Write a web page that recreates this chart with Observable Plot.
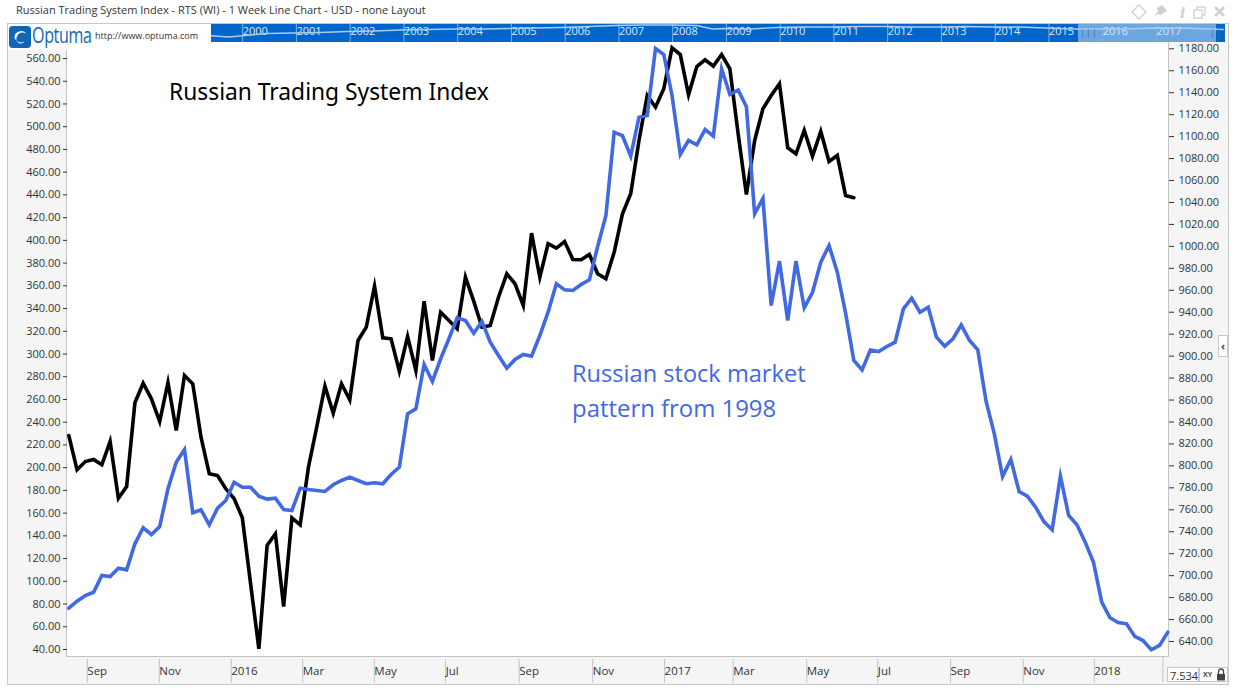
<!DOCTYPE html>
<html><head><meta charset="utf-8">
<script src="https://cdn.jsdelivr.net/npm/d3@7"></script>
<script src="https://cdn.jsdelivr.net/npm/@observablehq/plot@0.6"></script>
<style>
html,body{margin:0;padding:0;background:#fff;width:1236px;height:691px;overflow:hidden;font-family:"Open Sans",sans-serif;color:#333}
.a{position:absolute}
</style></head><body>
<div class="a" style="left:16px;top:2px;font-size:11px;line-height:16px;color:#333">Russian Trading System Index - RTS (WI) - 1 Week Line Chart - USD - none Layout</div>
<svg class="a" style="left:1130px;top:3px" width="100" height="18" viewBox="0 0 100 18">
<path d="M9 2 L16 9 L9 16 L2 9 Z" fill="none" stroke="#d0d0d0" stroke-width="1.3"/>
<path d="M23 14 L28 8 L27 5 L32 2 L37 8 L33 10 L31 12 L27 11 Z" fill="#cfcfcf"/>
<text x="50" y="15" font-family="DejaVu Serif" font-style="italic" font-weight="bold" font-size="14" fill="#cfcfcf">i</text>
<rect x="67" y="4" width="8" height="8" fill="none" stroke="#cfcfcf" stroke-width="1.3"/><rect x="64" y="7" width="8" height="8" fill="#fff" stroke="#cfcfcf" stroke-width="1.3"/>
<path d="M85 4 L94 13 M94 4 L85 13" stroke="#cfcfcf" stroke-width="2.6"/>
</svg>
<!-- frame and panels -->
<div class="a" style="left:7px;top:23px;width:1220px;height:660px;background:#f5f5f5;border:1px solid #c8c8c8;box-sizing:content-box"></div>
<div class="a" style="left:67px;top:42px;width:1101px;height:614px;background:#fff;border-left:1px solid #c4c4c4;border-right:1px solid #c4c4c4;border-bottom:1px solid #c4c4c4;box-sizing:content-box;margin-left:-1px"></div>
<div id="strip" class="a" style="left:8px;top:24px;width:1217px;height:18px;background:#0066cc"></div>
<div class="a" style="left:1225px;top:24px;width:3px;height:18px;background:#f5f5f5"></div>
<div class="a" style="left:1078px;top:24px;width:138px;height:18px;background:rgba(255,255,255,.42)"></div>
<div id="main" class="a" style="left:7px;top:32px"></div>
<div id="over" class="a" style="left:8px;top:24px"></div>
<div class="a" style="left:1080px;top:26px;font-size:9px;line-height:14px;letter-spacing:1px;color:#4a6f96">|||</div>
<div class="a" style="left:1210px;top:26px;font-size:9px;line-height:14px;letter-spacing:1px;color:#4a6f96">|||</div>
<!-- logo -->
<div class="a" style="left:8px;top:24px;width:203px;height:26px;background:#fff"></div>
<svg class="a" style="left:9px;top:26px" width="22" height="22" viewBox="0 0 24 24">
<path d="M4 0 H20 A 4 4 0 0 1 24 4 V20 A4 4 0 0 1 20 24 H4 A4 4 0 0 1 0 20 V4 A4 4 0 0 1 4 0 Z" fill="#1265b5"/>
<path d="M6 13 A7 7 0 0 1 19 9 A6 6 0 0 0 9 11 A5 5 0 0 0 17 17 A8 8 0 0 1 6 13 Z" fill="#fff"/>
</svg>
<div class="a" style="left:32px;top:20px;font-size:22px;line-height:28px;letter-spacing:-.5px;color:#1265b5;transform:scaleX(.73);transform-origin:left center">Optuma</div>
<div class="a" style="left:95px;top:29px;font-size:9px;line-height:14px;color:#333">http://www.optuma.com</div>
<!-- bottom-right controls -->
<div class="a" style="left:1167px;top:667px;width:32px;height:15px;background:#fff;border:1px solid #c8c8c8;overflow:hidden;font-size:11px;line-height:15px;padding-left:2px;box-sizing:border-box">7.534</div>
<div class="a" style="left:1199px;top:667px;width:29px;height:15px;background:#fff;border:1px solid #c8c8c8;font-size:7px;font-weight:bold;line-height:14px;padding-left:3px;box-sizing:border-box;color:#444">XY</div>
<svg class="a" style="left:1216px;top:668px" width="10" height="13" viewBox="0 0 10 13"><path d="M2.5 6 V3.5 A2.5 2.5 0 0 1 7.5 3.5 V6" fill="none" stroke="#444" stroke-width="1.4"/><rect x="1" y="6" width="8" height="6.5" fill="#444"/></svg>
<div class="a" style="left:1218px;top:335px;width:10px;height:22px;background:#fff;border:1px solid #c8c8c8;box-sizing:border-box;font-size:11px;line-height:20px;text-align:center;color:#444;font-weight:bold">‹</div>
<script>
// Left axis (black series), right axis (blue series)
const leftTicks = [40,60,80,100,120,140,160,180,200,220,240,260,280,300,320,340,360,380,400,420,440,460,480,500,520,540,560];
const rightTicks = [640,660,680,700,720,740,760,780,800,820,840,860,880,900,920,940,960,980,1000,1020,1040,1060,1080,1100,1120,1140,1160,1180];
// Weekly bars: month ticks given in bar units
const monthTicks = [1.94,10.65,19.36,28.0,36.67,45.3,54.2,63.1,71.8,80.1,89.0,97.6,106.4,115.2,123.8];
const monthLabels = ["Sep","Nov","2016","Mar","May","Jul","Sep","Nov","2017","Mar","May","Jul","Sep","Nov","2018"];
const unlabeledTicks = [132.4];
// Russian Trading System Index, left axis
const rtsWeekly = [228.3,198.1,205.4,207.2,202.5,223,173.1,183.4,257.1,274.3,260.6,240.6,274.9,232.7,281.1,273.8,226.8,194.6,193.1,181.4,
172.9,155.9,97.8,40.6,131.5,141.8,77.8,155.9,149.7,200.4,235.6,271.7,247.9,273.8,259.7,311.9,323.6,359.7,314.3,313.4,
284.9,315.4,285.5,346.5,294.3,336.8,329.5,322.2,367.6,346.5,323.6,325.1,350,370.6,361.8,342.7,406.3,367.6,397,393.1,
399,383.2,383,387.6,370.6,366.2,389.6,423.4,441,487.9,527.5,517.2,533.4,569.4,563.5,528.1,553,558.9,553.3,563.5,
551,493.8,440.4,487.9,515.8,527.5,537.8,481.5,476.2,496.7,474.1,495.8,469.4,474.7,439.5,437.5];
// Russian stock market pattern from 1998, right axis
const pattern1998 = [670.3,676.7,681.9,684.9,700.1,699.2,706.8,705.3,729,743.6,737.5,744.8,779.1,803.4,814.9,757.3,760,746.3,761.5,768.5,
785.1,780.6,780.6,772.4,769.7,770.6,760.3,759.4,779.7,778.5,777.6,776.7,782.8,786.7,789.7,786.7,783.7,784.6,783.7,792.2,
798.8,847.5,852,892.4,876.9,897.6,915.8,934.9,932.5,920.9,931.6,912.7,900.6,889,896.9,901.5,899.9,918.8,940,965.9,
960.4,959.8,965.3,969.5,999.9,1028.1,1104,1101,1082.2,1117.7,1119.2,1180.3,1174.8,1137.5,1083.7,1096.5,1092.5,1106.5,1100.4,1161.8,
1138.4,1142.5,1127.2,1029.7,1043.6,946.1,986.5,932.5,986.5,944,958.2,985.6,1000.8,976.5,939.3,896,887.5,905.6,904.2,908.8,
912.7,943.1,952.8,940,944.6,917.3,909,915.8,928.5,914.2,905.8,858.9,829.2,790.3,805.8,776.7,772.4,762.4,749.3,741.8,
790.6,754.8,746.3,730.5,712.2,675.8,661.6,657.3,656.1,644.6,640.9,632.4,636.4,648.5];
// Overview strip
const stripYears = [2000,2001,2002,2003,2004,2005,2006,2007,2008,2009,2010,2011,2012,2013,2014,2015,2016,2017];
const stripYear = [1999.4,1999.8,2000,2000.5,2001,2001.5,2002,2002.5,2003,2003.5,2004,2004.5,2005,2005.5,2006,2006.5,2007,2007.5,2008,2008.5,2008.8,2009,2009.5,2010,2010.5,2011,2011.5,2012,2012.5,2013,2013.5,2014,2014.5,2015,2015.5,2016,2016.5,2017,2017.5,2018.3];
const stripLevel = [7,5.5,6.5,9,9.5,10,11,11.5,12.5,13,13.5,13.5,14,14.5,15,16,17,17.5,17.5,17,13.5,14,13.5,15,15.5,15.5,16,16,15.5,15.5,16,15.5,15.5,14.5,13.5,13.5,13.5,14.5,14.5,13];

const toLeft = d3.scaleLinear().domain([640,1180]).range([47.04,568.55]);
const INK="#333", FRAME="#c4c4c4", BLUE="#4169e1";
const indexed = a => a.map((v,i)=>({i,v}));

const fig = Plot.plot({
  width:1221, height:651, marginLeft:60, marginRight:60, marginTop:10, marginBottom:27,
  style:{background:"transparent", fontFamily:'"Open Sans",sans-serif', fontSize:"11px", color:INK},
  x:{type:"linear", domain:[-0.157,133.08]},
  y:{type:"linear", domain:[33.84,574.1]},
  marks:[
    Plot.axisY(leftTicks,{anchor:"left", label:null, tickSize:4, tickPadding:3, tickFormat:d=>d.toFixed(2), stroke:"#333", fill:INK}),
    Plot.axisY(rightTicks.map(toLeft),{anchor:"right", label:null, tickSize:5, tickPadding:5, tickFormat:d=>toLeft.invert(d).toFixed(2), stroke:"#333", fill:INK}),
    Plot.axisX(monthTicks,{anchor:"bottom", label:null, tickSize:26, tickPadding:-19, textAnchor:"start", dx:2.5, dy:3,
      tickFormat:d=>monthLabels[monthTicks.indexOf(d)], stroke:FRAME, fill:INK, fontSize:11.5}),
    Plot.ruleX(unlabeledTicks,{y1:33.84,y2:33.84,insetBottom:-26,stroke:FRAME}),
    Plot.line(indexed(rtsWeekly),{x:"i",y:"v",stroke:"#000",strokeWidth:3.6,strokeLinejoin:"miter",strokeMiterlimit:6}),
    Plot.line(indexed(pattern1998),{x:"i",y:d=>toLeft(d.v),stroke:BLUE,strokeWidth:3.6,strokeLinejoin:"miter",strokeMiterlimit:6}),
    Plot.text(["Russian Trading System Index"],{x:[12.13],y:[530],text:d=>d,textAnchor:"start",fill:"#000",fontSize:22.8,fontFamily:'"Noto Sans",sans-serif'}),
    Plot.text(["Russian stock market"],{x:[60.9],y:[282.4],text:d=>d,textAnchor:"start",fill:BLUE,fontSize:23.6}),
    Plot.text(["pattern from 1998"],{x:[60.9],y:[251.4],text:d=>d,textAnchor:"start",fill:BLUE,fontSize:23.9})
  ]
});
document.getElementById("main").appendChild(fig);

const over = Plot.plot({
  width:1217, height:24, marginTop:0, marginLeft:0, marginRight:0, marginBottom:6,
  style:{background:"transparent", fontFamily:'"Open Sans",sans-serif', fontSize:"11px"},
  x:{type:"linear", domain:[1995.70,2018.34]},
  y:{type:"linear", domain:[0,18]},
  marks:[
    Plot.axisX(stripYears,{anchor:"bottom", label:null, tickSize:-18, tickPadding:3, textAnchor:"start", dx:3, tickFormat:d=>String(d), stroke:"#7fb2e5", fill:"#dce9f7"}),
    Plot.line(stripYear.map((t,k)=>({t,l:stripLevel[k]})),{x:"t",y:"l",stroke:"#a9ccef",strokeWidth:1.3})
  ]
});
document.getElementById("over").appendChild(over);
</script>
</body></html>
